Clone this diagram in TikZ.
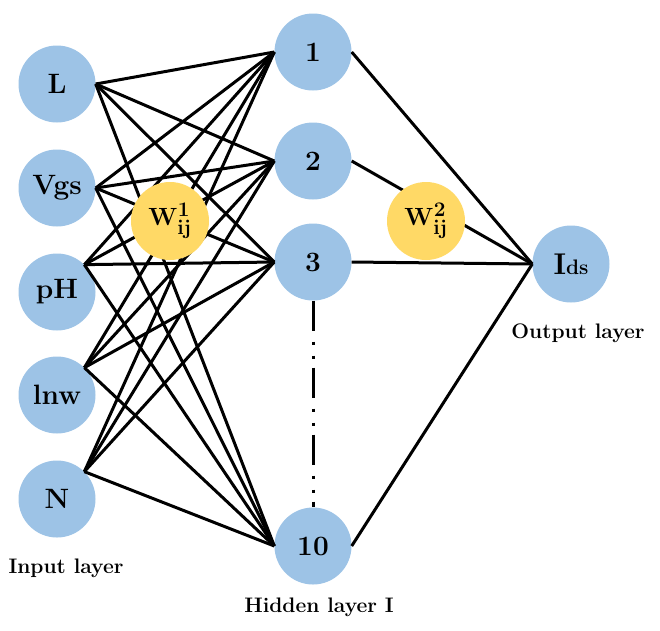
\documentclass[tikz,border=0pt]{standalone}
\usepackage{amsmath}
\usepackage{tikz}

\definecolor{nodeblue}{RGB}{157,195,230}
\definecolor{wyellow}{RGB}{255,217,102}

\begin{document}
\begin{tikzpicture}[x=1pt,y=-1pt,
        neuron/.style={circle, fill=nodeblue, minimum size=77pt, inner sep=0pt,
            font=\fontsize{28}{32}\selectfont\bfseries},
        weight/.style={circle, fill=wyellow, minimum size=78pt, inner sep=0pt,
            font=\fontsize{30}{34}\selectfont},
        link/.style={line width=3pt},
        layername/.style={font=\fontsize{21}{25}\selectfont\bfseries}]
        \useasboundingbox (0,0) rectangle (660,630);
        % input layer
        \foreach \nm/\y in {L/84, Vgs/188, pH/292, lnw/395, N/499}
            \node[neuron] (\nm) at (57,\y) {\nm};
        % hidden layer
        \foreach \nm/\y in {1/52, 2/161, 3/262, 10/546}
            \node[neuron] (h\nm) at (313,\y) {\nm};
        % output layer
        \node[neuron] (Ids) at (571,264) {{\fontsize{30}{32}\selectfont I}{\fontsize{21}{24}\selectfont ds}};
        % connections
        \foreach \i in {L,Vgs}
            \foreach \h in {1,2,3,10}
                \draw[link] (\i.east) -- (h\h.west);
        \foreach \i in {pH,lnw,N}
            \foreach \h in {1,2,3,10}
                \draw[link] (\i.45) -- (h\h.west);
        \foreach \h in {1,2,3,10}
            \draw[link] (h\h.east) -- (Ids.west);
        \draw[link, dash pattern=on 30pt off 11pt on 3pt off 11pt on 3pt off 9pt]
            (h3.south) -- (h10.north);
        % weights
        \node[weight] (w1) at (170,221) {$\mathbf{W}^{\mathbf{1}}_{\mathbf{ij}}$};
        \node[weight] (w2) at (426,221) {$\mathbf{W}^{\mathbf{2}}_{\mathbf{ij}}$};
        % labels
        \node[layername] (inlab) at (66,568) {Input layer};
        \node[layername] (hidlab) at (319,607) {Hidden layer I};
        \node[layername] (outlab) at (578,333) {Output layer};
\end{tikzpicture}
\end{document}
